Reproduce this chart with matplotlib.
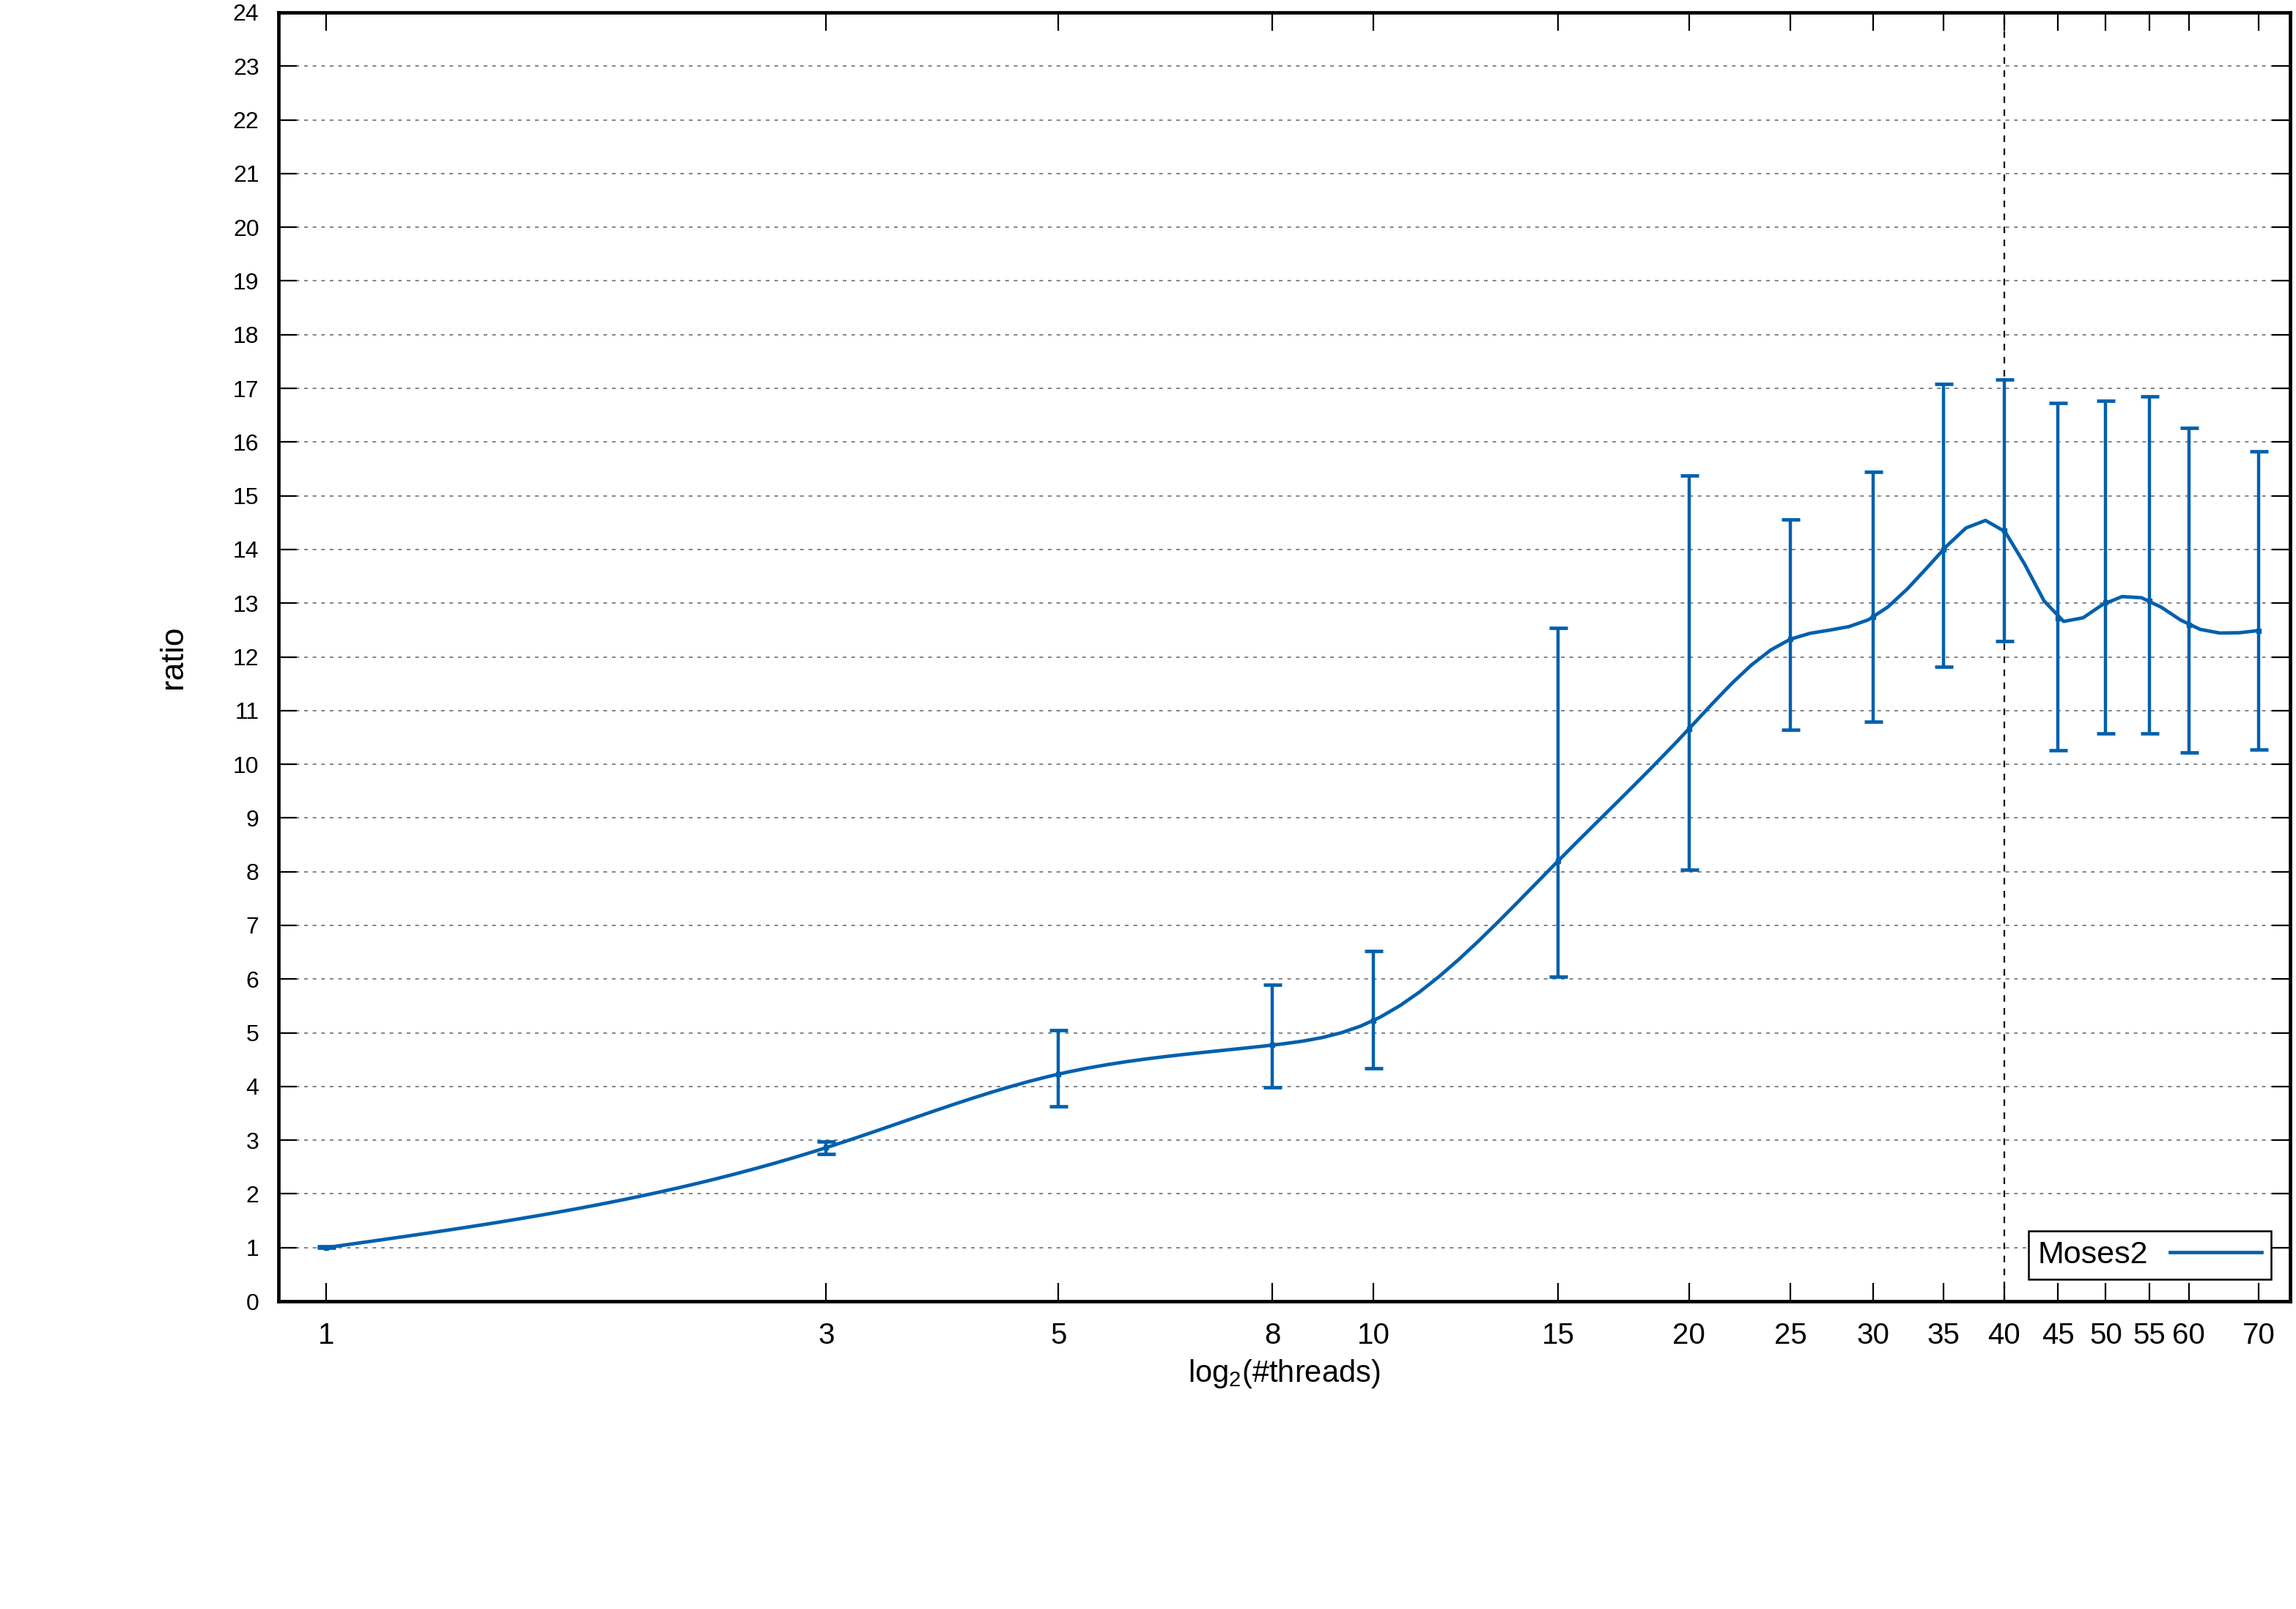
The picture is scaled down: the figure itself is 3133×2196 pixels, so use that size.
import numpy as np
import matplotlib
matplotlib.use("Agg")
import matplotlib.pyplot as plt

plt.rcParams['font.family'] = ['Liberation Sans', 'DejaVu Sans']
plt.rcParams['mathtext.default'] = 'regular'

# data
threads = [1, 3, 5, 8, 10, 15, 20, 25, 30, 35, 40, 45, 50, 55, 60, 70]
ratio_mean = [1.0, 2.86, 4.23, 4.77, 5.23, 8.2, 10.66, 12.33, 12.74, 14.0,
              14.35, 12.72, 13.01, 13.05, 12.6, 12.49]
ratio_low = [0.99, 2.74, 3.63, 3.98, 4.34, 6.05, 8.04, 10.64, 10.79, 11.81,
             12.29, 10.26, 10.58, 10.58, 10.22, 10.27]
ratio_high = [1.02, 2.97, 5.05, 5.89, 6.52, 12.54, 15.38, 14.56, 15.45, 17.08,
              17.17, 16.73, 16.77, 16.85, 16.27, 15.83]
xticks = [1, 3, 5, 8, 10, 15, 20, 25, 30, 35, 40, 45, 50, 55, 60, 70]
marker_x = 40
label = 'Moses2'


def natural_spline(xs, ys, xq):
    # natural cubic spline, like gnuplot's "smooth csplines"
    xs = np.asarray(xs, float)
    ys = np.asarray(ys, float)
    n = len(xs)
    h = np.diff(xs)
    A = np.zeros((n, n))
    rhs = np.zeros(n)
    A[0, 0] = 1
    A[-1, -1] = 1
    for i in range(1, n - 1):
        A[i, i - 1] = h[i - 1]
        A[i, i] = 2 * (h[i - 1] + h[i])
        A[i, i + 1] = h[i]
        rhs[i] = 3 * ((ys[i + 1] - ys[i]) / h[i] - (ys[i] - ys[i - 1]) / h[i - 1])
    c = np.linalg.solve(A, rhs)
    b = (ys[1:] - ys[:-1]) / h - h * (2 * c[:-1] + c[1:]) / 3
    d = (c[1:] - c[:-1]) / (3 * h)
    idx = np.clip(np.searchsorted(xs, xq) - 1, 0, n - 2)
    t = xq - xs[idx]
    return ys[idx] + b[idx] * t + c[idx] * t ** 2 + d[idx] * t ** 3


blue = '#0060ad'
W, H = 3133, 2196
fig = plt.figure(figsize=(W / 100, H / 100), dpi=100)
ax = fig.add_axes([380 / W, 1 - 1776 / H, 2745 / W, 1759 / H])

# smoothed curve in log-x space, sampled like gnuplot (100 samples)
u = np.log(threads)
uq = np.linspace(u[0], u[-1], 100)
ax.plot(np.exp(uq), natural_spline(u, ratio_mean, uq), color=blue, lw=3.4,
        label=label, zorder=3)

mean = np.array(ratio_mean)
yerr = [mean - np.array(ratio_low), np.array(ratio_high) - mean]
ax.errorbar(threads, ratio_mean, yerr=yerr, fmt='s', ms=5, color=blue,
            ecolor=blue, elinewidth=3.2, capsize=9, capthick=3.4, zorder=3)

ax.axvline(marker_x, color='black', lw=1.6, ls=(0, (4, 4)), zorder=2)

ax.set_xscale('log')
ax.set_xlim(0.9, 75)
ax.set_ylim(0, 24)
ax.set_xticks(xticks)
ax.set_xticklabels([str(t) for t in xticks])
ax.xaxis.set_minor_locator(matplotlib.ticker.NullLocator())
ax.set_yticks(range(0, 25))

ax.yaxis.grid(True, color='#707070', lw=1.2, ls=(0, (3, 4)))
ax.set_axisbelow(True)

ax.tick_params(axis='both', direction='in', length=18, width=1.6,
               top=True, right=True)
ax.tick_params(axis='x', labelsize=29, pad=20)
ax.tick_params(axis='y', labelsize=23, pad=19)
for sp in ax.spines.values():
    sp.set_linewidth(3.4)

ax.set_xlabel('log$_2$(#threads)', fontsize=30, labelpad=8)
ax.set_ylabel('ratio', fontsize=32, labelpad=44)

leg = ax.legend(loc='lower right', bbox_to_anchor=(0.9905, 0.017),
                borderaxespad=0, fontsize=31, markerfirst=False,
                handlelength=2.9, handletextpad=0.7, borderpad=0.3,
                fancybox=False, framealpha=1, edgecolor='black')
leg.get_frame().set_linewidth(1.8)

fig.savefig('out.png', dpi=100)
